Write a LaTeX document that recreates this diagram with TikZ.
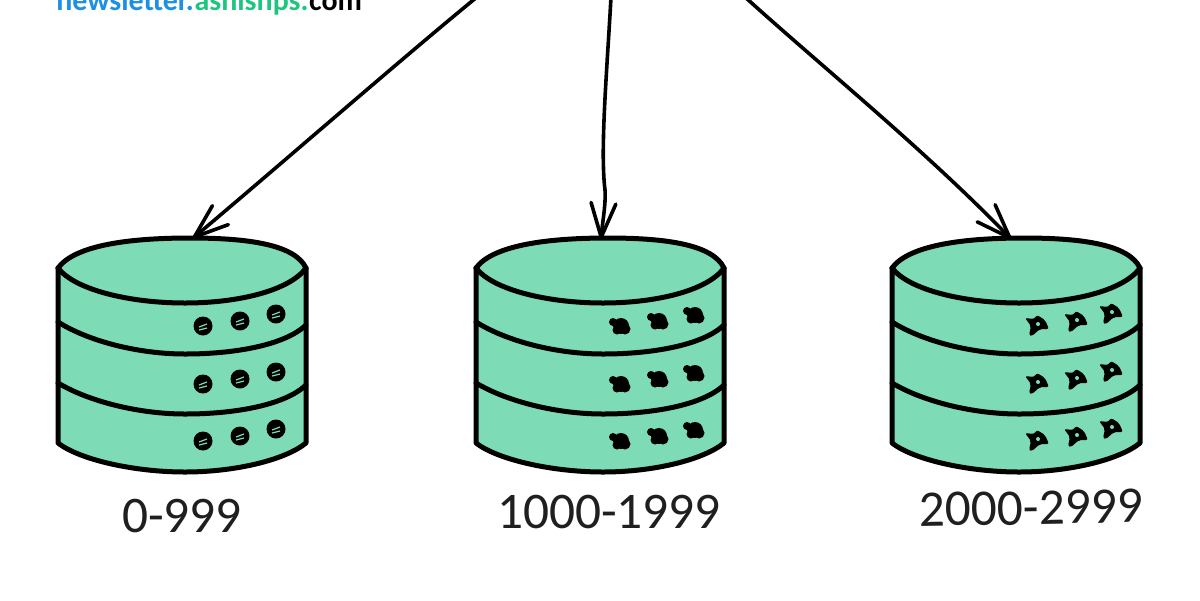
\documentclass[tikz,border=0pt]{standalone}
\usepackage{fontspec}
\newfontfamily\handfont{Carlito}
\usetikzlibrary{arrows.meta}
\definecolor{dbgreen}{HTML}{7DDCB5}
\definecolor{urlblue}{HTML}{1E8FE1}
\definecolor{urlgreen}{HTML}{1FC47E}
\tikzset{
  line/.style={black,line width=0.09cm,line cap=round,line join=round},
  rim/.style={black,line width=0.125cm,line cap=round,line join=round},
  shard/.style={line,-{Straight Barb[length=0.85cm,width=0.62cm,round]}},
  rangelabel/.style={inner sep=0,text=black!88,font=\handfont\fontsize{36.5}{40}\selectfont},
  urltext/.style={inner sep=0,anchor=base west,font=\handfont\bfseries\fontsize{21.3}{24}\selectfont}
}
% one cylinder, #1 = x shift
\newcommand{\dbstack}[1]{
  \begin{scope}[xshift=#1*0.025cm]
    \fill[dbgreen] (58,268) .. controls (75,245) and (130,238) .. (190,238)
      .. controls (250,238) and (295,245) .. (306,268) -- (306,443)
      .. controls (285,460) and (235,472) .. (185,472)
      .. controls (135,472) and (80,460) .. (58,443) -- cycle;
    \draw[rim] (58,268) .. controls (75,245) and (130,238) .. (190,238)
      .. controls (250,238) and (295,245) .. (306,268);
    \draw[rim] (58,268) .. controls (75,290) and (130,303) .. (185,303)
      .. controls (240,303) and (290,290) .. (306,268);
    \draw[rim] (58,268) -- (58,443) .. controls (80,460) and (135,472) .. (185,472)
      .. controls (235,472) and (285,460) .. (306,443) -- (306,268);
    \draw[rim] (58,322) .. controls (90,342) and (140,354) .. (185,354)
      .. controls (235,354) and (285,345) .. (306,325);
    \draw[rim] (58,383) .. controls (90,402) and (140,414) .. (185,414)
      .. controls (235,414) and (285,405) .. (306,385);
  \end{scope}
}
% the three kinds of status dot
\newcommand{\dotround}[2]{
  \fill[black] (#1,#2) circle (9.5);
  \draw[dbgreen,line width=0.03cm] (#1-4,#2+1) -- (#1+4,#2-2) (#1-4,#2+4) -- (#1+4,#2+2);
}
\newcommand{\dotblob}[2]{
  \fill[black] (#1+1,#2) circle (8) (#1-7,#2-4) circle (4) (#1+5,#2+3) circle (5.5) (#1-3,#2+4) circle (4.5);
}
\newcommand{\dothook}[2]{
  \fill[black,rounded corners=1.5] (#1-12,#2-7) -- (#1-3,#2-6) -- (#1,#2-10) -- (#1+8,#2-5)
    -- (#1+12,#2+4) -- (#1+3,#2+4) -- (#1-5,#2+11) -- (#1-8,#2+10) -- (#1-6,#2+1) -- cycle;
  \fill[dbgreen] (#1+1,#2-1) circle (2);
}

\begin{document}
\begin{tikzpicture}[x=0.025cm,y=-0.025cm]
   \useasboundingbox (0,0) rectangle (1200,600);
   \clip (0,0) rectangle (1200,600);

   %cylinders
   \dbstack{0}
   \dbstack{418}
   \dbstack{834}

   %status dots
   \foreach \dy in {0,58,115} {
     \dotround{203}{326+\dy} \dotround{240}{321+\dy} \dotround{276}{314+\dy}
     \dotblob{620}{326+\dy} \dotblob{658}{321+\dy} \dotblob{694}{315+\dy}
     \dothook{1037}{325+\dy} \dothook{1076}{321+\dy} \dothook{1111}{313+\dy}
   }

   %arrow ends
   \coordinate (from0) at (477,-3);
   \coordinate (from1) at (611,-3);
   \coordinate (from2) at (745,-3);
   \node[inner sep=0] (db0) at (192,239) {};
   \node[inner sep=0] (db1) at (601,240) {};
   \node[inner sep=0] (db2) at (1012,240) {};

   %range labels
   \node[rangelabel] (range0) at (182,516) {0-999};
   \node[rangelabel] (range1) at (609,512) {1000-1999};
   \node[rangelabel,rotate=1] (range2) at (1031,508) {2000-2999};

   %cut off address
   \node[urltext,text=urlblue] (url0) at (56,10) {newsletter.};
   \node[urltext,text=urlgreen] (url1) at (url0.base east) {ashishps.};
   \node[urltext,text=black] (url2) at (url1.base east) {com};

   \draw[shard] (from0) .. controls (400,60) and (280,165) .. (db0);
   \draw[shard] (from1) .. controls (607,70) and (600,150) .. (605,190) .. controls (606,205) and (602,225) .. (db1);
   \draw[shard] (from2) .. controls (820,65) and (925,150) .. (db2);
\end{tikzpicture}
\end{document}
